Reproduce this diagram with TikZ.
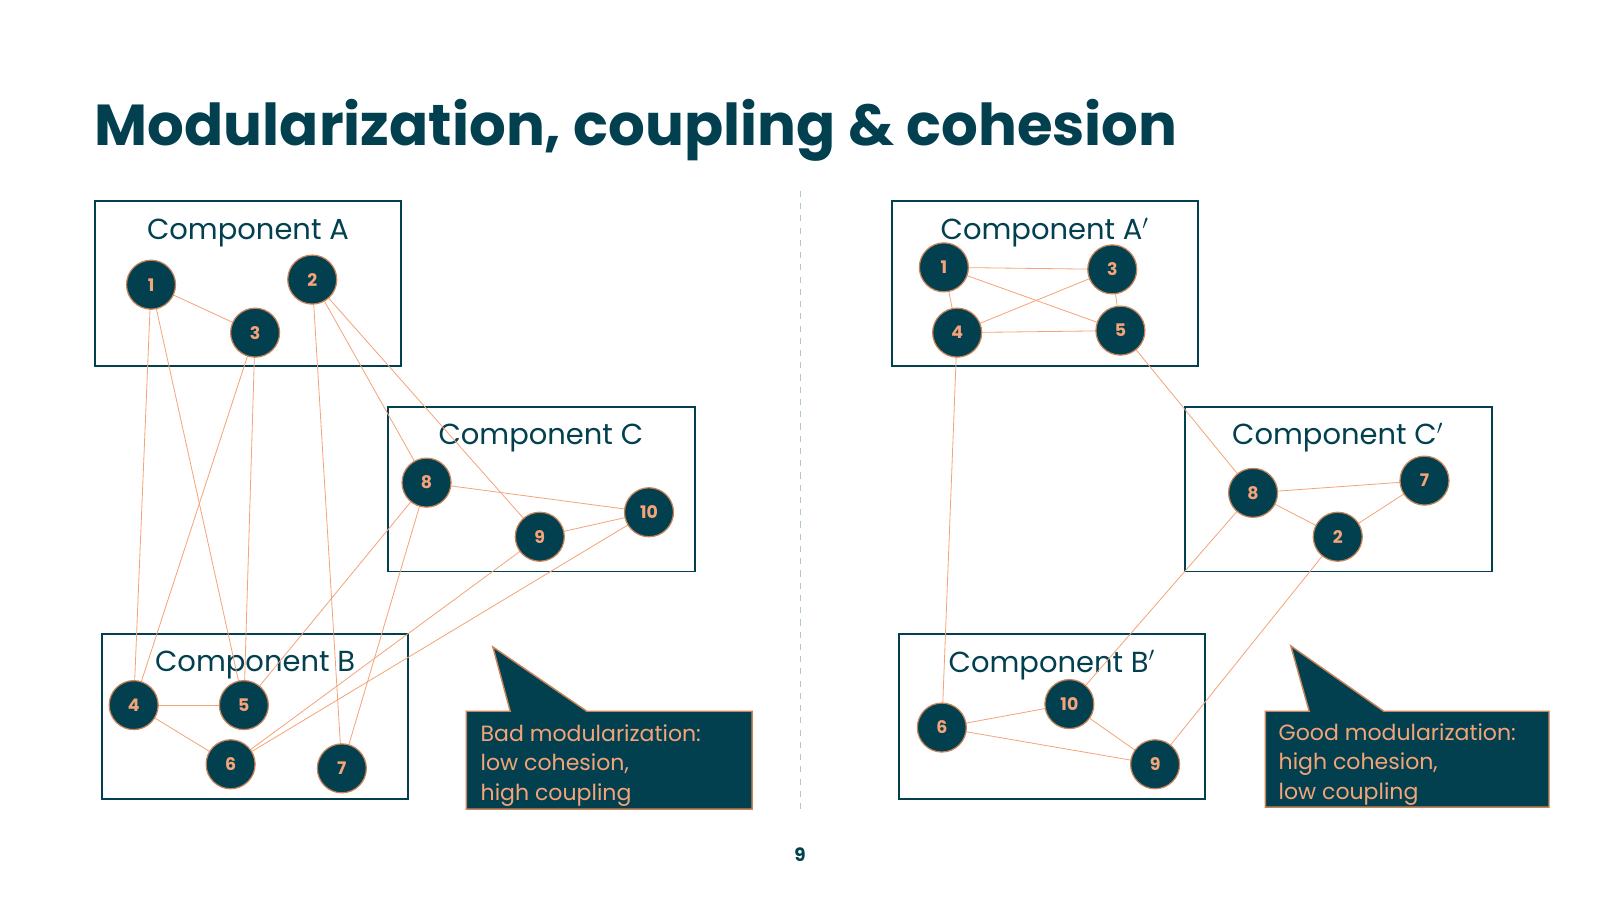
\documentclass[tikz,border=0pt]{standalone}
\usepackage{fontspec}
\setmainfont{Poppins}
\usetikzlibrary{positioning}
\definecolor{teal}{HTML}{02404F}
\definecolor{peach}{HTML}{F4A478}
\definecolor{rim}{HTML}{C98358}
\begin{document}
\begin{tikzpicture}[
        x=0.5pt,y=-0.5pt,
        comp/.style={
          draw=teal,
          line width=0.9pt
          },
        lbl/.style={
          text=teal,
          font=\fontsize{14.2}{17}\selectfont
          },
        num/.style={
          circle,
          fill=teal,
          draw=rim,
          line width=0.6pt,
          minimum size=24pt,
          inner sep=0pt,
          text=peach,
          font=\bfseries\fontsize{8.5}{10}\selectfont
          },
        link/.style={
          draw=peach,
          line width=0.4pt
          },
        callout/.style={
          fill=teal,
          draw=rim,
          line width=0.7pt
          }
        ]
        \useasboundingbox (0,0) rectangle (1568,882);
        \node[anchor=base west,text=teal,font=\bfseries\fontsize{28.3}{34}\selectfont] (title) at (86,143) {Modularization, coupling \& cohesion};
        \draw[draw=teal!30,dashed] (784,187) -- (784,795);
        % left side
        \draw[comp] (93,197) rectangle (393,359);
        \draw[comp] (380,399) rectangle (681,560);
        \draw[comp] (100,621) rectangle (400,783);
        \node[lbl] (labA) at (243,228) {Component A};
        \node[lbl] (labC) at (530,429) {Component C};
        \node[lbl] (labB) at (250,652) {Component B};
        \foreach \n/\x/\y in {1/148/279,2/306/274,3/250/326,8/418/473,9/529/526,10/636/502,4/131/691,5/239/691,6/226/749,7/335/753}
          \coordinate (l\n) at (\x,\y);
        \foreach \a/\b in {1/3,1/4,1/5,3/4,3/5,2/8,2/9,2/7,8/10,9/10,8/5,8/7,9/6,10/6,4/5,4/6}
          \draw[link] (l\a) -- (l\b);
        \foreach \n in {1,...,10}
          \node[num] (ln\n) at (l\n) {\n};
        % right side
        \draw[comp] (874,197) rectangle (1174,359);
        \draw[comp] (1161,399) rectangle (1462,560);
        \draw[comp] (881,621) rectangle (1181,783);
        \node[lbl] (labAp) at (1024,228) {Component A$'$};
        \node[lbl] (labCp) at (1311,429) {Component C$'$};
        \node[lbl] (labBp) at (1031,652) {Component B$'$};
        \foreach \n/\x/\y in {1/925/262,3/1090/264,4/938/326,5/1098/324,8/1228/483,7/1396/471,2/1311/526,6/923/713,10/1048/690,9/1132/749}
          \coordinate (r\n) at (\x,\y);
        \foreach \a/\b in {1/3,1/5,1/4,3/4,3/5,4/5,5/8,4/6,8/7,8/2,2/7,8/10,2/9,6/10,6/9,10/9}
          \draw[link] (r\a) -- (r\b);
        \foreach \n in {1,...,10}
          \node[num] (rn\n) at (r\n) {\n};
        % callouts
        \draw[callout] (457,697) -- (500,697) -- (483,634) -- (575,697) -- (737,697) -- (737,793) -- (457,793) -- cycle;
        \node[anchor=north west,align=left,text=peach,font=\fontsize{10.8}{14.5}\selectfont] (badtxt) at (464,703) {Bad modularization:\\low cohesion,\\high coupling};
        \draw[callout] (1240,697) -- (1283,697) -- (1265,633) -- (1356,697) -- (1518,697) -- (1518,791) -- (1240,791) -- cycle;
        \node[anchor=north west,align=left,text=peach,font=\fontsize{10.8}{14.5}\selectfont] (goodtxt) at (1246,702) {Good modularization:\\high cohesion,\\low coupling};
        \node[text=teal,font=\bfseries\fontsize{9}{10}\selectfont] (page) at (784,838) {9};
\end{tikzpicture}
\end{document}
